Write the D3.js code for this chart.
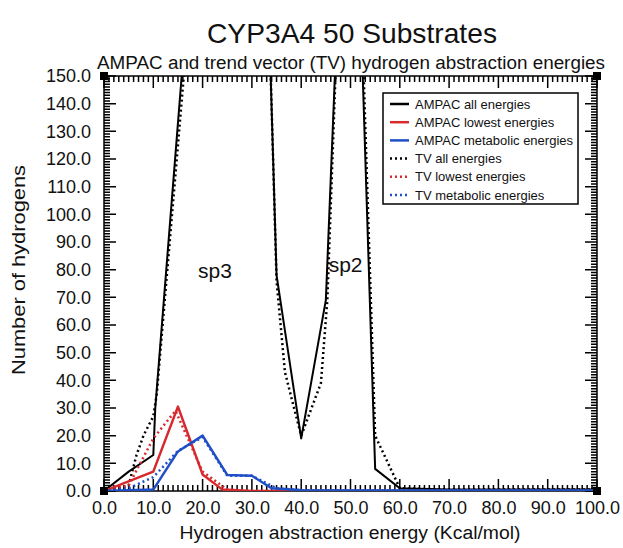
<!DOCTYPE html>
<html><head><meta charset="utf-8">
<script src="https://cdn.jsdelivr.net/npm/d3@7"></script>
<style>body{margin:0;background:#fff}svg{display:block}text{font-family:"Liberation Sans",Arial,sans-serif;fill:#111}</style>
</head><body>
<script>
// ---- data ----
const ampacAllX = [0, 5, 10, 10.4, 20, 30, 35, 40, 45, 50, 55, 60, 70, 80, 90, 100];
const ampacAllY = [0, 7, 13, 30, 245, 380, 78, 19, 69, 290, 8, 1, 0.5, 0.5, 0.5, 0.5];
const ampacLowX = [0, 10, 15, 20, 24, 30, 40, 50, 60, 70, 80, 90, 100];
const ampacLowY = [0, 7, 30.5, 6, 0.5, 0, 0, 0, 0, 0, 0, 0, 0];
const ampacMetX = [0, 10, 15, 20, 25, 30, 34, 40, 50, 60, 70, 80, 90, 100];
const ampacMetY = [0, 0.5, 14.3, 20, 5.8, 5.5, 1, 0.3, 0.2, 0.2, 0.2, 0.2, 0.2, 0.2];
const tvAllX = [0, 5, 6.6, 8, 10, 10.7, 20, 30, 35, 36.7, 38.4, 40, 44, 45.3, 50, 55, 60, 70, 80, 90, 100];
const tvAllY = [0, 2, 13, 20, 27, 35, 230, 390, 76, 43, 31, 20, 39, 69, 300, 20, 1, 0.5, 0.5, 0.5, 0.5];
const tvLowX = [0, 5, 10, 14.5, 20, 25, 30, 40, 50, 60, 70, 80, 90, 100];
const tvLowY = [0, 2, 19, 29, 7, 0.5, 0, 0, 0, 0, 0, 0, 0, 0];
const tvMetX = [0, 5, 10, 15, 20, 25, 30, 35, 40, 50, 60, 70, 80, 90, 100];
const tvMetY = [0, 1, 5, 14.5, 19.5, 5.5, 5.5, 1, 0.3, 0.2, 0.2, 0.2, 0.2, 0.2, 0.2];
const legendLabels = ["AMPAC all energies", "AMPAC lowest energies", "AMPAC metabolic energies",
                      "TV all energies", "TV lowest energies", "TV metabolic energies"];
const xTickValues = [0, 10, 20, 30, 40, 50, 60, 70, 80, 90, 100];
const yTickValues = [0, 10, 20, 30, 40, 50, 60, 70, 80, 90, 100, 110, 120, 130, 140, 150];
const regionLabels = [{t: "sp3", x: 22.5, y: 77}, {t: "sp2", x: 49, y: 79}];

// ---- layout ----
const W = 623, H = 548;
const L = 104, R = 597, T = 76, B = 491;
const RED = "#d62a2e", BLUE = "#1f4fc6", BLACK = "#000";

const svg = d3.select("body").append("svg").attr("width", W).attr("height", H);
const x = d3.scaleLinear().domain([0, 100]).range([L, R]);
const y = d3.scaleLinear().domain([0, 150]).range([B, T]);

// titles
svg.append("text").attr("x", 352).attr("y", 43).attr("text-anchor", "middle")
  .attr("font-size", 28).attr("textLength", 290).attr("lengthAdjust", "spacingAndGlyphs")
  .text("CYP3A4 50 Substrates");
svg.append("text").attr("x", 351).attr("y", 69).attr("text-anchor", "middle")
  .attr("font-size", 18).attr("textLength", 508).attr("lengthAdjust", "spacingAndGlyphs")
  .text("AMPAC and trend vector (TV) hydrogen abstraction energies");
svg.append("text").attr("x", 350).attr("y", 539).attr("text-anchor", "middle")
  .attr("font-size", 18).attr("textLength", 341).attr("lengthAdjust", "spacingAndGlyphs")
  .text("Hydrogen abstraction energy (Kcal/mol)");
svg.append("text").attr("transform", "translate(25,270) rotate(-90)").attr("text-anchor", "middle")
  .attr("font-size", 18).attr("textLength", 210).attr("lengthAdjust", "spacingAndGlyphs")
  .text("Number of hydrogens");

// tick labels via d3 axes
const fmt = d3.format(".1f");
function styleLabels(g) {
  g.select(".domain").remove();
  g.selectAll(".tick line").remove();
  g.selectAll("text").attr("font-size", 18).attr("font-family", "Liberation Sans").style("fill", "#111");
}
svg.append("g").attr("transform", `translate(0,${B})`)
  .call(d3.axisBottom(x).tickValues(xTickValues).tickFormat(fmt).tickSize(0).tickPadding(10)).call(styleLabels);
svg.append("g").attr("transform", `translate(${L},0)`)
  .call(d3.axisLeft(y).tickValues(yTickValues).tickFormat(fmt).tickSize(0).tickPadding(13)).call(styleLabels);

// inward tick marks as one combined path: major every 10, minor every 1
const xAll = d3.range(0, 101, 1);
const yAll = d3.range(0, 151, 1);
const len = v => (v % 10 === 0 ? 12 : 6);
let tickD = "";
xAll.forEach(v => {
  tickD += `M${x(v)},${B}V${B - len(v)}`;
  tickD += `M${x(v)},${T}V${T + len(v)}`;
});
yAll.forEach(v => {
  tickD += `M${L},${y(v)}H${L + len(v)}`;
  tickD += `M${R},${y(v)}H${R - len(v)}`;
});
svg.append("path").attr("d", tickD).attr("fill", "none")
  .attr("stroke", "#000").attr("stroke-width", 1.5);

// frame
svg.append("rect").attr("x", L).attr("y", T).attr("width", R - L).attr("height", B - T)
  .attr("fill", "none").attr("stroke", "#000").attr("stroke-width", 1.5);

// clip
svg.append("clipPath").attr("id", "clip").append("rect")
  .attr("x", L).attr("y", T).attr("width", R - L).attr("height", B - T);

const line = d3.line().x(d => x(d[0])).y(d => y(d[1]));
const series = [
  {xs: ampacAllX, ys: ampacAllY, c: BLACK, dash: null, w: 2},
  {xs: tvAllX, ys: tvAllY, c: BLACK, dash: "2,3", w: 2.5},
  {xs: ampacLowX, ys: ampacLowY, c: RED, dash: null, w: 2.5},
  {xs: tvLowX, ys: tvLowY, c: RED, dash: "2,3", w: 2.5},
  {xs: ampacMetX, ys: ampacMetY, c: BLUE, dash: null, w: 2.5},
  {xs: tvMetX, ys: tvMetY, c: BLUE, dash: "2,3", w: 2.5}
];
const plot = svg.append("g").attr("clip-path", "url(#clip)");
series.forEach(s => {
  plot.append("path").datum(s.xs.map((v, i) => [v, s.ys[i]]))
    .attr("d", line).attr("fill", "none").attr("stroke", s.c)
    .attr("stroke-width", s.w).attr("stroke-dasharray", s.dash)
    .attr("stroke-linejoin", "round");
});

// corner squares
[[0, 0], [100, 0], [0, 150], [100, 150]].forEach(p => {
  svg.append("rect").attr("x", x(p[0]) - 4).attr("y", y(p[1]) - 4).attr("width", 8).attr("height", 8).attr("fill", "#000");
});

// region labels
regionLabels.forEach(r => {
  svg.append("text").attr("x", x(r.x)).attr("y", y(r.y)).attr("text-anchor", "middle")
    .attr("font-size", 21).text(r.t);
});

// legend
const lg = svg.append("g");
lg.append("rect").attr("x", 383).attr("y", 93).attr("width", 195).attr("height", 111)
  .attr("fill", "#fff").attr("stroke", "#000").attr("stroke-width", 1.5);
legendLabels.forEach((lab, i) => {
  const s = series[i < 3 ? i * 2 : (i - 3) * 2 + 1];
  const yy = 104 + i * 18.2;
  lg.append("line").attr("x1", 390).attr("x2", 409).attr("y1", yy).attr("y2", yy)
    .attr("stroke", s.c).attr("stroke-width", 2.5).attr("stroke-dasharray", s.dash);
  lg.append("text").attr("x", 415).attr("y", yy + 4.5).attr("font-size", 13).text(lab);
});
</script>
</body></html>
